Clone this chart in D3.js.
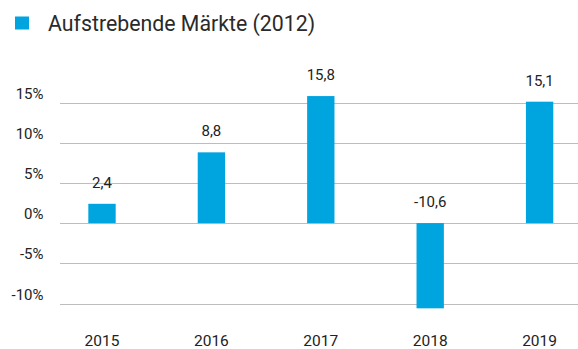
<!DOCTYPE html>
<html>
<head>
<meta charset="utf-8">
<script src="https://cdn.jsdelivr.net/npm/d3@7/dist/d3.min.js"></script>
<style>
  html, body { margin: 0; padding: 0; background: #fff; }
  svg { display: block; font-family: Roboto, "Noto Sans", sans-serif; }
</style>
</head>
<body>
<svg id="chart" width="578" height="349"></svg>
<script>
// Annual returns, emerging markets
const years = ["2015", "2016", "2017", "2018", "2019"];
const returns = [2.4, 8.8, 15.8, -10.6, 15.1];
const yTicks = [-10, -5, 0, 5, 10, 15];
const seriesName = "Aufstrebende Märkte (2012)";

const barColor = "#00a4df";
const gridColor = "#bdbdbd";
const textColor = "#222";

const svg = d3.select("#chart");

const x = d3.scaleBand()
  .domain(years)
  .range([47.3, 594.3])
  .paddingInner(0.75)
  .paddingOuter(0.375);

const y = d3.scaleLinear()
  .domain([-10, 15])
  .range([303.5, 102.5]);

// German decimal comma, plain hyphen for negatives
const fmt = v => (v < 0 ? "-" : "") + Math.abs(v).toFixed(1).replace(".", ",");

// Horizontal gridlines
svg.append("g")
  .selectAll("line")
  .data(yTicks)
  .join("line")
  .attr("x1", 60)
  .attr("x2", 578)
  .attr("y1", d => Math.round(y(d)) + 0.5)
  .attr("y2", d => Math.round(y(d)) + 0.5)
  .attr("stroke", gridColor)
  .attr("stroke-width", 1.2);

// Y axis labels, sitting above their gridline
svg.append("g")
  .selectAll("text")
  .data(yTicks)
  .join("text")
  .attr("x", 43.5)
  .attr("y", d => y(d) - 4)
  .attr("text-anchor", "end")
  .attr("font-size", 15)
  .attr("fill", textColor)
  .text(d => d + "%");

// Bars
const data = years.map((yr, i) => ({ year: yr, value: returns[i] }));

svg.append("g")
  .selectAll("rect")
  .data(data)
  .join("rect")
  .attr("x", d => x(d.year))
  .attr("width", x.bandwidth())
  .attr("y", d => y(Math.max(0, d.value)))
  .attr("height", d => Math.abs(y(d.value) - y(0)))
  .attr("fill", barColor);

// Value labels above each bar (above the zero line for negatives)
svg.append("g")
  .selectAll("text")
  .data(data)
  .join("text")
  .attr("x", d => x(d.year) + x.bandwidth() / 2)
  .attr("y", d => y(Math.max(0, d.value)) - 16)
  .attr("text-anchor", "middle")
  .attr("font-size", 15)
  .attr("fill", textColor)
  .text(d => fmt(d.value));

// Category labels
svg.append("g")
  .selectAll("text")
  .data(years)
  .join("text")
  .attr("x", d => x(d) + x.bandwidth() / 2)
  .attr("y", 346)
  .attr("text-anchor", "middle")
  .attr("font-size", 15.5)
  .attr("fill", textColor)
  .text(d => d);

// Legend
const legend = svg.append("g");
legend.append("rect")
  .attr("x", 15)
  .attr("y", 16.5)
  .attr("width", 14)
  .attr("height", 13)
  .attr("fill", barColor);
legend.append("text")
  .attr("x", 48)
  .attr("y", 30.5)
  .attr("font-size", 21.3)
  .attr("fill", "#2a2a2a")
  .text(seriesName);
</script>
</body>
</html>
